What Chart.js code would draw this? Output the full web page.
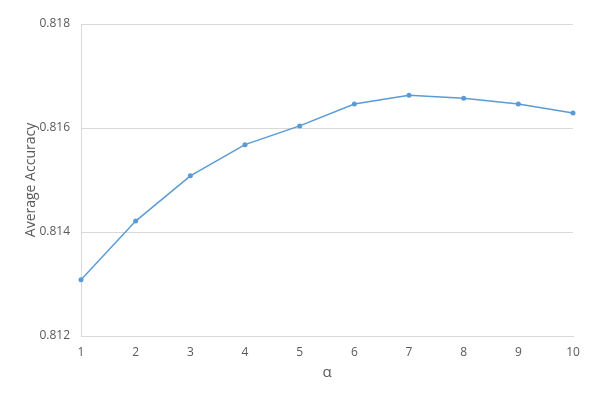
<!DOCTYPE html>
<html>
<head>
<meta charset="utf-8">
<script src="https://cdn.jsdelivr.net/npm/chart.js@4/dist/chart.umd.min.js"></script>
<style>
  html, body { margin: 0; padding: 0; background: #fff; }
  #chart { display: block; }
</style>
</head>
<body>
<canvas id="chart" width="598" height="404"></canvas>
<script>
// values
var alphas = ['1', '2', '3', '4', '5', '6', '7', '8', '9', '10'];
var accuracy = [0.81308, 0.81421, 0.81508, 0.81568, 0.81604, 0.81646, 0.81663, 0.81657, 0.81646, 0.81629];
var yTicks = [0.812, 0.814, 0.816, 0.818];

var textColor = '#595959';
var gridColor = '#d9d9d9';
var lineColor = '#5b9bd5';
var fontFamily = '"Open Sans", "Noto Sans", sans-serif';

var chart = new Chart(document.getElementById('chart'), {
  type: 'line',
  data: {
    labels: alphas,
    datasets: [{
      label: 'Average Accuracy',
      data: accuracy,
      borderColor: lineColor,
      backgroundColor: lineColor,
      borderWidth: 1.5,
      pointRadius: 2.5,
      pointBorderWidth: 0,
      tension: 0,
      fill: false
    }]
  },
  options: {
    responsive: false,
    devicePixelRatio: 1,
    animation: false,
    layout: { padding: { left: 0, top: 24, right: 25, bottom: 0 } },
    plugins: { legend: { display: false }, tooltip: { enabled: false } },
    scales: {
      x: {
        offset: false,
        grid: { display: false, drawTicks: false },
        border: { display: true, color: gridColor, width: 1 },
        ticks: { color: textColor, padding: 9, font: { family: fontFamily, size: 12 }, maxRotation: 0 },
        title: { display: true, text: 'α', color: textColor, font: { family: fontFamily, size: 15 }, padding: { top: 0, bottom: 22 } },
        afterFit: function(scale) { scale.height = 68; }
      },
      y: {
        min: yTicks[0],
        max: yTicks[yTicks.length - 1],
        afterBuildTicks: function(scale) {
          scale.ticks = yTicks.map(function(v) { return { value: v }; });
        },
        grid: { color: gridColor, lineWidth: 1, drawTicks: false },
        border: { display: true, color: gridColor, width: 1 },
        ticks: {
          color: textColor,
          padding: 11,
          font: { family: fontFamily, size: 12 },
          callback: function(v) { return Number(v).toFixed(3); }
        },
        title: { display: true, text: 'Average Accuracy', color: textColor, font: { family: fontFamily, size: 14 }, padding: { top: 23, bottom: 0 } },
        afterFit: function(scale) { scale.width = 81; }
      }
    }
  }
});
</script>
</body>
</html>
